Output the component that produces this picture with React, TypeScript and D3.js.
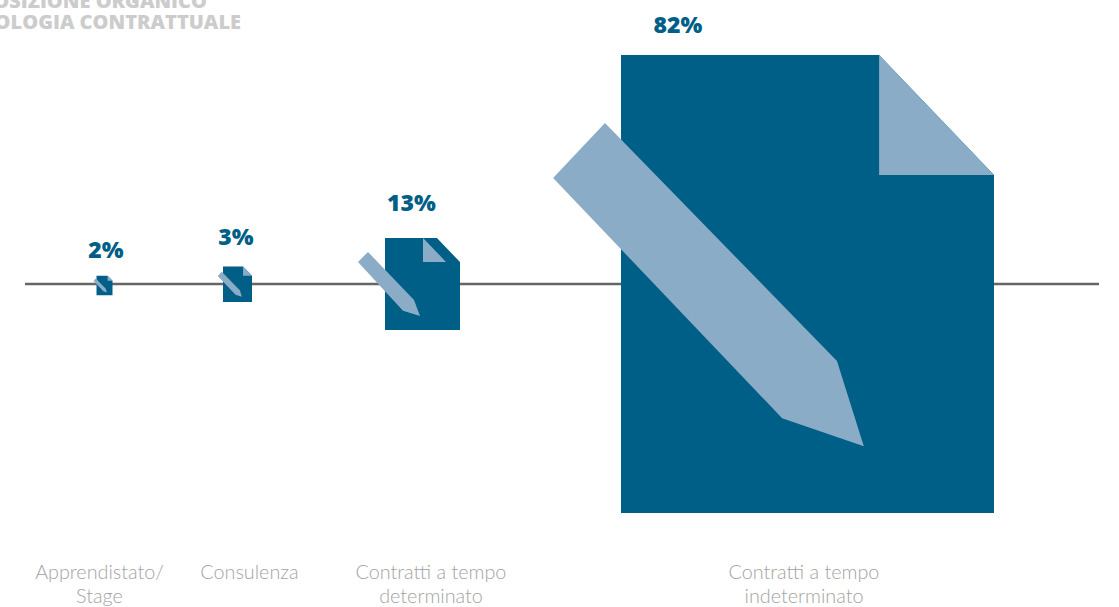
import React from "react";
import * as d3 from "d3";

const categories = ["Apprendistato/ Stage", "Consulenza", "Contratti a tempo determinato", "Contratti a tempo indeterminato"];
const values = [2, 3, 13, 82];
const valueLabels = ["2%", "3%", "13%", "82%"];
const categoryLines = [["Apprendistato/", "Stage"], ["Consulenza"], ["Contratti a tempo", "determinato"], ["Contratti a tempo", "indeterminato"]];
const iconVariants = ["standard", "standard", "offset", "standard"];
const titleLines = ["COMPOSIZIONE ORGANICO", "TIPOLOGIA CONTRATTUALE"];

// icon artwork in unit coordinates of the document's box
const sheet: [number, number][] = [[0, 0], [0.692, 0], [1, 0.262], [1, 1], [0, 1]];
const folds: Record<string, [number, number][]> = {
  standard: [[0.692, 0], [1, 0.262], [0.692, 0.262]],
  offset: [[0.507, 0], [0.813, 0.26], [0.507, 0.26]],
};
const pens: Record<string, [number, number][]> = {
  standard: [[-0.182, 0.2686], [-0.043, 0.1485], [0.579, 0.668], [0.651, 0.854], [0.432, 0.793]],
  offset: [[-0.36, 0.26], [-0.227, 0.152], [0.387, 0.674], [0.467, 0.848], [0.24, 0.79]],
};

const W = 1119, H = 607;
const BLUE = "#005f87", PEN = "#8aacc7", GREY = "#a3a3a3";
const width = d3.scaleLinear().domain([2, 3, 13, 82]).range([16, 29, 75, 373]);
const aspect = 458 / 373;
const centerX = d3.scaleOrdinal<string, number>().domain(categories).range([104.5, 237.5, 422.5, 807.5]);
const centerY = d3.scaleOrdinal<string, number>().domain(categories).range([285.5, 284.2, 284, 284]);
const valueX = d3.scaleOrdinal<string, number>().domain(categories).range([106, 236, 411.5, 678]);
const valueY = d3.scaleOrdinal<string, number>().domain(categories).range([258, 245, 211, 33]);
const nameX = d3.scaleOrdinal<string, number>().domain(categories).range([99.5, 249.5, 431, 804]);
const axisY = 284;
const line = d3.line();

function Icon({ i }: { i: number }) {
  const w = width(values[i]);
  const h = w * aspect;
  const cx = centerX(categories[i]);
  const cy = centerY(categories[i]);
  const x = d3.scaleLinear().domain([0, 1]).range([cx - w / 2, cx + w / 2]);
  const y = d3.scaleLinear().domain([0, 1]).range([cy - h / 2, cy + h / 2]);
  const path = (pts: [number, number][]) => line(pts.map(([a, b]) => [x(a), y(b)] as [number, number])) + "Z";
  const v = iconVariants[i];
  return (
    <g>
      <path d={path(sheet)} fill={BLUE} />
      <path d={path(folds[v])} fill={PEN} />
      <path d={path(pens[v])} fill={PEN} />
    </g>
  );
}

export default function App() {
  return (
    <svg width={W} height={H} viewBox={`0 0 ${W} ${H}`} style={{ position: "absolute", left: 0, top: 0, background: "#fff" }}>
      <g fontFamily="'Open Sans', sans-serif" fontWeight={800} fontSize={20} fill="#cccccc" textAnchor="end">
        <text x={207} y={8}>{titleLines[0]}</text>
        <text x={241} y={29}>{titleLines[1]}</text>
      </g>
      <line x1={25} x2={1099} y1={axisY} y2={axisY} stroke="#666666" strokeWidth={2.6} />
      {categories.map((c, i) => <Icon key={c} i={i} />)}
      {categories.map((c, i) => (
        <text key={c} x={valueX(c)} y={valueY(c)} textAnchor="middle" fontFamily="'Open Sans', sans-serif" fontWeight={800} fontSize={23} fill={BLUE}>
          {valueLabels[i]}
        </text>
      ))}
      {categories.map((c, i) => (
        <text key={c} textAnchor="middle" fontFamily="Lato, sans-serif" fontWeight={300} fontSize={19.8} fill={GREY}>
          {categoryLines[i].map((t, j) => <tspan key={t} x={nameX(c)} y={579 + j * 24}>{t}</tspan>)}
        </text>
      ))}
    </svg>
  );
}
